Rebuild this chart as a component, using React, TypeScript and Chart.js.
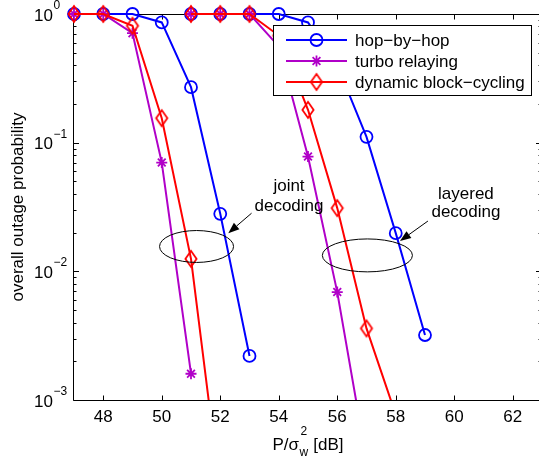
import React, { useEffect, useRef } from 'react';
import { Chart, registerables } from 'chart.js';

Chart.register(...registerables);

// ---------- data ----------
const snrJoint = [47, 48, 49, 50, 51, 52, 53];
const snrLayered = [51, 52, 53, 54, 55, 56, 57, 58, 59];

const hopJoint = [1, 1, 1, 0.86, 0.27, 0.028, 0.0022];
const turboJoint = [1, 1, 0.71, 0.07, 0.0016];
const dbcJoint = [1, 1, 0.81, 0.155, 0.0125, 0.00019];

const hopLayered = [1, 1, 1, 1, 0.86, 0.4, 0.111, 0.0198, 0.0032];
const turboLayered = [1, 1, 1, 0.56, 0.078, 0.0069, 0.00034];
const dbcLayered = [1, 1, 1, 0.68, 0.18, 0.031, 0.0036, 0.00077];

const legendLabels = ['hop\u2212by\u2212hop', 'turbo relaying', 'dynamic block\u2212cycling'];
const xTickValues = [48, 50, 52, 54, 56, 58, 60, 62];
const yTickExponents = [-3, -2, -1, 0];
const yTitle = 'overall outage probability';
const jointText = ['joint', 'decoding'];
const layeredText = ['layered', 'decoding'];

// ---------- styles ----------
const BLUE = '#0000ff';
const PURPLE = '#b000c8';
const RED = '#ff0000';
const FONT = '"Liberation Sans", Arial, Helvetica, sans-serif';

function makeDiamond(color: string): HTMLCanvasElement {
  const c = document.createElement('canvas');
  c.width = 18;
  c.height = 22;
  const g = c.getContext('2d')!;
  g.strokeStyle = color;
  g.lineWidth = 1.8;
  g.lineJoin = 'miter';
  g.beginPath();
  g.moveTo(9, 11 - 7.9);
  g.lineTo(9 + 5.6, 11);
  g.lineTo(9, 11 + 7.9);
  g.lineTo(9 - 5.6, 11);
  g.closePath();
  g.stroke();
  return c;
}

const CLIP = { left: 12, top: 12, right: 0, bottom: 0 };

function mk(label: string, xs: number[], ys: number[], color: string, style: any, radius: number, order: number) {
  return {
    label,
    data: ys.map((v, i) => ({ x: xs[i], y: v })),
    borderColor: color,
    backgroundColor: 'transparent',
    borderWidth: 2,
    pointStyle: style,
    pointRadius: radius,
    pointBorderColor: color,
    pointBackgroundColor: 'transparent',
    pointBorderWidth: 1.8,
    tension: 0,
    clip: CLIP,
    order,
  };
}

// annotation geometry (data coordinates: dB, probability)
const ellipses = [
  { x: 51.19, y: 0.0156, rxDb: 1.265, ryDec: 0.124 },
  { x: 57.03, y: 0.0133, rxDb: 1.54, ryDec: 0.128 },
];
const arrows = [
  { x0: 53.07, y0: 0.0283, x1: 52.275, y1: 0.0198 },
  { x0: 59.1, y0: 0.0246, x1: 58.145, y1: 0.0172 },
];
const labels = [
  { x: 54.35, y: 0.0353, lines: jointText, gap: 19.5 },
  { x: 60.4, y: 0.0312, lines: layeredText, gap: 18.5 },
];

export default function App() {
  const ref = useRef<HTMLCanvasElement>(null);

  useEffect(() => {
    const canvas = ref.current!;
    const diamondRed = makeDiamond(RED);

    const axesPlugin = {
      id: 'matlabAxes',
      beforeDatasetsDraw(chart: any) {
        const ctx = chart.ctx as CanvasRenderingContext2D;
        const { left, right, top, bottom } = chart.chartArea;
        const xs = chart.scales.x;
        const ys = chart.scales.y;
        const L = Math.round(left) - 0.5;
        const R = Math.round(right) - 0.5;
        const T = Math.round(top) + 0.5;
        const B = Math.round(bottom) + 0.5;
        ctx.save();
        ctx.strokeStyle = '#000';
        ctx.lineWidth = 1;
        ctx.beginPath();
        ctx.moveTo(L, T);
        ctx.lineTo(R, T);
        ctx.lineTo(R, B);
        ctx.lineTo(L, B);
        ctx.closePath();
        ctx.stroke();

        // x ticks
        ctx.beginPath();
        for (const v of xTickValues) {
          const px = Math.round(xs.getPixelForValue(v)) + 0.5;
          ctx.moveTo(px, B);
          ctx.lineTo(px, B - 5);
          ctx.moveTo(px, T);
          ctx.lineTo(px, T + 5);
        }
        // y ticks major + minor
        for (const e of yTickExponents) {
          const py = Math.round(ys.getPixelForValue(Math.pow(10, e))) + 0.5;
          ctx.moveTo(L, py);
          ctx.lineTo(L + 5.5, py);
          ctx.moveTo(R, py);
          ctx.lineTo(R - 5.5, py);
          if (e < 0) {
            for (let m = 2; m <= 9; m++) {
              const pm = Math.round(ys.getPixelForValue(m * Math.pow(10, e))) + 0.5;
              ctx.moveTo(L, pm);
              ctx.lineTo(L + 3, pm);
              ctx.moveTo(R, pm);
              ctx.lineTo(R - 3, pm);
            }
          }
        }
        ctx.stroke();

        // x tick labels
        ctx.fillStyle = '#000';
        ctx.font = `17px ${FONT}`;
        ctx.textAlign = 'center';
        ctx.textBaseline = 'alphabetic';
        for (const v of xTickValues) {
          ctx.fillText(String(v), xs.getPixelForValue(v), bottom + 22);
        }
        // y tick labels 10^e
        for (const e of yTickExponents) {
          const py = ys.getPixelForValue(Math.pow(10, e));
          ctx.font = `17px ${FONT}`;
          ctx.textAlign = 'right';
          ctx.fillText('10', left - 21, py + 6.7);
          ctx.font = `12px ${FONT}`;
          ctx.textAlign = 'left';
          ctx.fillText(e < 0 ? '\u2212' + String(-e) : String(e), left - 20.5, py - 5);
        }

        // x title: P/σ_w^2 [dB]
        const cx = (left + right) / 2;
        ctx.font = `17px ${FONT}`;
        const w1 = ctx.measureText('P/\u03c3').width;
        const w3 = ctx.measureText(' [dB]').width;
        ctx.font = `12px ${FONT}`;
        const w2 = Math.max(ctx.measureText('2').width, ctx.measureText('w').width);
        const total = w1 + 1 + w2 + w3;
        let x0 = cx - total / 2;
        const base = bottom + 50;
        ctx.textAlign = 'left';
        ctx.font = `17px ${FONT}`;
        ctx.fillText('P/\u03c3', x0, base);
        ctx.font = `12px ${FONT}`;
        ctx.fillText('2', x0 + w1 + 1.5, base - 15.5);
        ctx.fillText('w', x0 + w1 + 0.5, base + 6);
        ctx.font = `17px ${FONT}`;
        ctx.fillText(' [dB]', x0 + w1 + 1 + w2, base);

        // y title
        ctx.save();
        ctx.translate(23, (top + bottom) / 2);
        ctx.rotate(-Math.PI / 2);
        ctx.textAlign = 'center';
        ctx.fillText(yTitle, 0, 0);
        ctx.restore();
        ctx.restore();
      },
      afterDatasetsDraw(chart: any) {
        const ctx = chart.ctx as CanvasRenderingContext2D;
        const xs = chart.scales.x;
        const ys = chart.scales.y;
        ctx.save();
        ctx.strokeStyle = '#000';
        ctx.fillStyle = '#000';
        ctx.lineWidth = 1;
        // ellipses
        for (const el of ellipses) {
          const px = xs.getPixelForValue(el.x);
          const py = ys.getPixelForValue(el.y);
          const rx = Math.abs(xs.getPixelForValue(el.x + el.rxDb) - px);
          const ry = Math.abs(ys.getPixelForValue(el.y * Math.pow(10, el.ryDec)) - py);
          ctx.beginPath();
          ctx.ellipse(px, py, rx, ry, 0, 0, Math.PI * 2);
          ctx.stroke();
        }
        // arrows
        for (const a of arrows) {
          const sx = xs.getPixelForValue(a.x0);
          const sy = ys.getPixelForValue(a.y0);
          const tx = xs.getPixelForValue(a.x1);
          const ty = ys.getPixelForValue(a.y1);
          const ang = Math.atan2(ty - sy, tx - sx);
          const hl = 11;
          const hw = 4.2;
          const bx = tx - hl * Math.cos(ang);
          const by = ty - hl * Math.sin(ang);
          ctx.beginPath();
          ctx.moveTo(sx, sy);
          ctx.lineTo(bx, by);
          ctx.stroke();
          ctx.beginPath();
          ctx.moveTo(tx, ty);
          ctx.lineTo(bx + hw * Math.sin(ang), by - hw * Math.cos(ang));
          ctx.lineTo(bx - hw * Math.sin(ang), by + hw * Math.cos(ang));
          ctx.closePath();
          ctx.fill();
        }
        // text labels
        ctx.font = `17px ${FONT}`;
        ctx.textAlign = 'center';
        ctx.textBaseline = 'alphabetic';
        for (const lb of labels) {
          const px = xs.getPixelForValue(lb.x);
          const py = ys.getPixelForValue(lb.y);
          ctx.fillText(lb.lines[0], px, py - lb.gap / 2);
          ctx.fillText(lb.lines[1], px, py + lb.gap / 2);
        }

        // legend
        const bx0 = 273.5, by0 = 25.5, bw = 258, bh = 70;
        ctx.fillStyle = '#fff';
        ctx.fillRect(bx0, by0, bw, bh);
        ctx.strokeStyle = '#000';
        ctx.lineWidth = 1;
        ctx.strokeRect(bx0, by0, bw, bh);
        const rows = [40, 61, 82];
        const colors = [BLUE, PURPLE, RED];
        for (let i = 0; i < 3; i++) {
          const y = rows[i];
          ctx.strokeStyle = colors[i];
          ctx.lineWidth = 2;
          ctx.beginPath();
          ctx.moveTo(286, y);
          ctx.lineTo(347, y);
          ctx.stroke();
          const mx = 316.5;
          ctx.lineWidth = 1.8;
          if (i === 0) {
            ctx.beginPath();
            ctx.arc(mx, y, 6, 0, Math.PI * 2);
            ctx.stroke();
          } else if (i === 1) {
            ctx.beginPath();
            for (let k = 0; k < 4; k++) {
              const a = (k * Math.PI) / 4;
              ctx.moveTo(mx - 5.5 * Math.cos(a), y - 5.5 * Math.sin(a));
              ctx.lineTo(mx + 5.5 * Math.cos(a), y + 5.5 * Math.sin(a));
            }
            ctx.stroke();
          } else {
            ctx.drawImage(diamondRed, mx - diamondRed.width / 2, y - diamondRed.height / 2);
          }
          ctx.fillStyle = '#000';
          ctx.font = `17px ${FONT}`;
          ctx.textAlign = 'left';
          ctx.fillText(legendLabels[i], 355, y + 6);
        }
        ctx.restore();
      },
    };

    const chart = new Chart(canvas, {
      type: 'line',
      data: {
        datasets: [
          mk(legendLabels[0], snrJoint, hopJoint, BLUE, 'circle', 6, 2),
          mk(legendLabels[1], snrJoint, turboJoint, PURPLE, 'star', 5.5, 1),
          mk(legendLabels[2], snrJoint, dbcJoint, RED, diamondRed, 6, 0),
          mk(legendLabels[0], snrLayered, hopLayered, BLUE, 'circle', 6, 2),
          mk(legendLabels[1], snrLayered, turboLayered, PURPLE, 'star', 5.5, 1),
          mk(legendLabels[2], snrLayered, dbcLayered, RED, diamondRed, 6, 0),
        ] as any,
      },
      options: {
        animation: false,
        responsive: false,
        devicePixelRatio: 1,
        events: [],
        layout: { padding: { left: 74, top: 14, right: 18, bottom: 60 }, autoPadding: false } as any,
        plugins: {
          legend: { display: false },
          tooltip: { enabled: false },
          title: { display: false },
        },
        scales: {
          x: { type: 'linear', min: 47, max: 63, display: false },
          y: { type: 'logarithmic', min: 0.001, max: 1, display: false },
        },
      },
      plugins: [axesPlugin],
    });
    return () => chart.destroy();
  }, []);

  return (
    <div
      style={{
        position: 'fixed',
        left: 0,
        top: 0,
        width: 539,
        height: 460,
        overflow: 'hidden',
        background: '#fff',
      }}
    >
      <canvas ref={ref} width={560} height={460} style={{ display: 'block', width: 560, height: 460 }} />
    </div>
  );
}
